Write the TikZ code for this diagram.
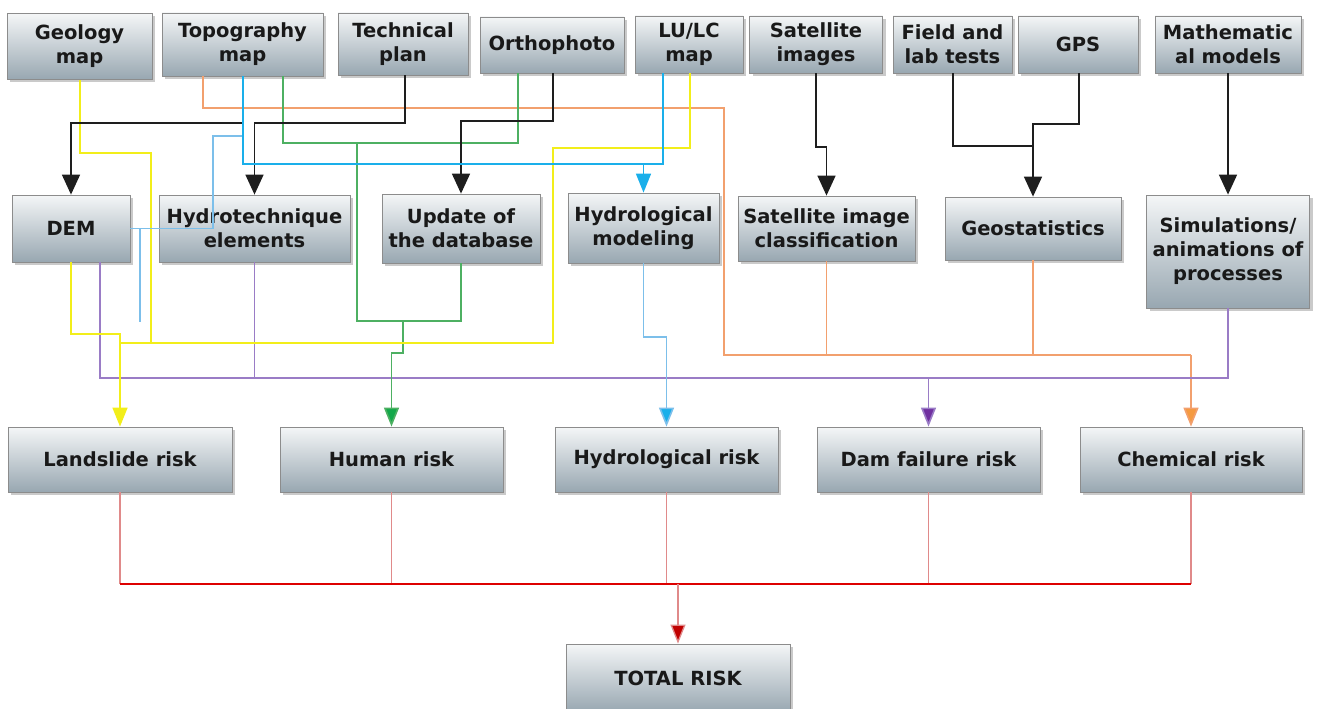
\documentclass[tikz,border=0pt]{standalone}
\usepackage{fontspec}
\setmainfont{DejaVu Sans}
\usetikzlibrary{arrows.meta,shadows,shadings}
\definecolor{boxtop}{HTML}{F4F6F7}
\definecolor{boxbot}{HTML}{98A7B1}
\definecolor{boxline}{HTML}{8C8C8C}
\definecolor{cblk}{HTML}{1E1E1E}
\definecolor{cyel}{HTML}{F2EE1A}
\definecolor{cgrn}{HTML}{4DB062}
\definecolor{cgrnA}{HTML}{12A84A}
\definecolor{cblu}{HTML}{1AAFEA}
\definecolor{cbluL}{HTML}{7CBFEA}
\definecolor{corg}{HTML}{F2A06E}
\definecolor{corgA}{HTML}{F59A40}
\definecolor{cpur}{HTML}{9A7CC6}
\definecolor{cpurA}{HTML}{7030A0}
\definecolor{cred}{HTML}{DD0000}
\definecolor{credL}{HTML}{E08A8A}
\definecolor{credA}{HTML}{C00000}
\tikzset{
  box/.style={rectangle, draw=boxline, line width=0.8pt, top color=boxtop, bottom color=boxbot,
    drop shadow={shadow xshift=3pt, shadow yshift=-3pt, opacity=0.35, fill=black!60},
    inner sep=0pt, align=center, text=black!90,
    font=\fontsize{19.5}{24}\selectfont\bfseries},
  conn/.style={line width=1.6pt, line join=miter},
  tip/.style={-{Triangle[length=20pt,width=18pt]}},
  ctip/.style={-{Triangle[length=19pt,width=15pt,fill=#1]}},
  blk/.style={conn, draw=cblk},
  yel/.style={conn, draw=cyel},
  grn/.style={conn, draw=cgrn},
  blu/.style={conn, draw=cblu},
  bluL/.style={conn, draw=cbluL},
  org/.style={conn, draw=corg},
  pur/.style={conn, draw=cpur},
  red/.style={conn, draw=cred},
  redL/.style={conn, line width=1.3pt, draw=credL},
}
\begin{document}
\begin{tikzpicture}[x=1pt,y=-1pt]
\useasboundingbox (0,0) rectangle (1323,709);
% row 1
\node[box, minimum width=145pt, minimum height=66pt] (geo) at (79.5,46.5) {Geology\\map};
\node[box, minimum width=161pt, minimum height=63pt] (topo) at (242.5,44.5) {Topography\\map};
\node[box, minimum width=130pt, minimum height=62pt] (tech) at (403,44) {Technical\\plan};
\node[box, minimum width=144pt, minimum height=56pt] (ortho) at (552,45) {Orthophoto};
\node[box, minimum width=108pt, minimum height=57pt] (lulc) at (689,44.5) {LU/LC\\map};
\node[box, minimum width=133pt, minimum height=57pt] (satimg) at (816,44.5) {Satellite\\images};
\node[box, minimum width=119pt, minimum height=57pt] (field) at (952.5,44.5) {Field and\\lab tests};
\node[box, minimum width=120pt, minimum height=57pt] (gps) at (1078,44.5) {GPS};
\node[box, minimum width=146pt, minimum height=57pt] (math) at (1228,44.5) {Mathematic\\al models};
% row 2
\node[box, minimum width=118pt, minimum height=67pt] (dem) at (71,228.5) {DEM};
\node[box, minimum width=191pt, minimum height=67pt] (hydtech) at (254.5,228.5) {Hydrotechnique\\elements};
\node[box, minimum width=158pt, minimum height=69pt] (update) at (461,228.5) {Update of\\the database};
\node[box, minimum width=151pt, minimum height=70pt] (hydmod) at (643.5,228) {Hydrological\\modeling};
\node[box, minimum width=177pt, minimum height=65pt] (satcl) at (826.5,228.5) {Satellite image\\classification};
\node[box, minimum width=176pt, minimum height=63pt] (geost) at (1033,228.5) {Geostatistics};
\node[box, minimum width=163pt, minimum height=113pt] (sim) at (1228,251.5) {Simulations/\\animations of\\processes};
% row 3
\node[box, minimum width=224pt, minimum height=65pt] (land) at (120,459.5) {Landslide risk};
\node[box, minimum width=223pt, minimum height=65pt] (human) at (391.5,459.5) {Human risk};
\node[box, minimum width=223pt, minimum height=65pt] (hydrisk) at (666.5,459.5) {Hydrological risk};
\node[box, minimum width=223pt, minimum height=65pt] (dam) at (928.5,459.5) {Dam failure risk};
\node[box, minimum width=222pt, minimum height=65pt] (chem) at (1191,459.5) {Chemical risk};
\node[box, minimum width=224pt, minimum height=68pt] (total) at (678,678) {TOTAL RISK};
% orange
\draw[org] (topo.south -| 203,0) -- (203,108) -- (724,108) -- (724,355) -- (1191,355);
\draw[org] (satcl.south) -- (826.5,355);
\draw[org] (geost.south) -- (1033,355);
\draw[org, ctip=corgA] (1191,355) -- (chem.north);
% purple
\draw[pur] (dem.south -| 100,0) -- (100,378) -- (1228,378) -- (sim.south);
\draw[pur] (hydtech.south) -- (254.5,378);
\draw[pur, ctip=cpurA] (928.5,378) -- (dam.north);
% green
\draw[grn] (topo.south -| 283,0) -- (283,143) -- (518,143) -- (ortho.south -| 518,0);
\draw[grn] (357,143) -- (357,321) -- (461,321) -- (update.south);
\draw[grn, ctip=cgrnA] (403,321) -- (403,353) -- (391.5,353) -- (human.north);
% yellow
\draw[yel] (geo.south -| 80,0) -- (80,153) -- (151,153) -- (151,343);
\draw[yel] (120,343) -- (553,343) -- (553,148) -- (690,148) -- (lulc.south -| 690,0);
\draw[yel, ctip=cyel] (dem.south) -- (71,334) -- (120,334) -- (land.north);
% black
\draw[blk, tip] (topo.south -| 243,0) -- (243,123) -- (71,123) -- (dem.north);
\draw[blk, tip] (tech.south -| 405,0) -- (405,123) -- (254.5,123) -- (hydtech.north);
\draw[blk, tip] (ortho.south -| 553,0) -- (553,121) -- (461,121) -- (update.north);
\draw[blk, tip] (satimg.south) -- (816,147) -- (826.5,147) -- (satcl.north);
\draw[blk] (gps.south -| 1079,0) -- (1079,124) -- (1033,124) -- (1033,146);
\draw[blk, tip] (field.south -| 953,0) -- (953,146) -- (1033,146) -- (geost.north);
\draw[blk, tip] (math.south) -- (sim.north);
% blue
\draw[bluL] (243,136) -- (213,136) -- (213,228.5) -- (dem.east);
\draw[bluL] (140,228.5) -- (140,322);
\draw[blu] (topo.south -| 243,0) -- (243,164) -- (663,164) -- (lulc.south -| 663,0);
\draw[blu, ctip=cblu] (643.5,164) -- (hydmod.north);
\draw[bluL, ctip=cblu] (hydmod.south) -- (643.5,337) -- (666.5,337) -- (hydrisk.north);
% red
\draw[redL] (land.south) -- (120,584);
\draw[redL] (human.south) -- (391.5,584);
\draw[redL] (hydrisk.south) -- (666.5,584);
\draw[redL] (dam.south) -- (928.5,584);
\draw[redL] (chem.south) -- (1191,584);
\draw[red] (120,584) -- (1191,584);
\draw[redL, ctip=credA] (678,584) -- (total.north);
\end{tikzpicture}
\end{document}
